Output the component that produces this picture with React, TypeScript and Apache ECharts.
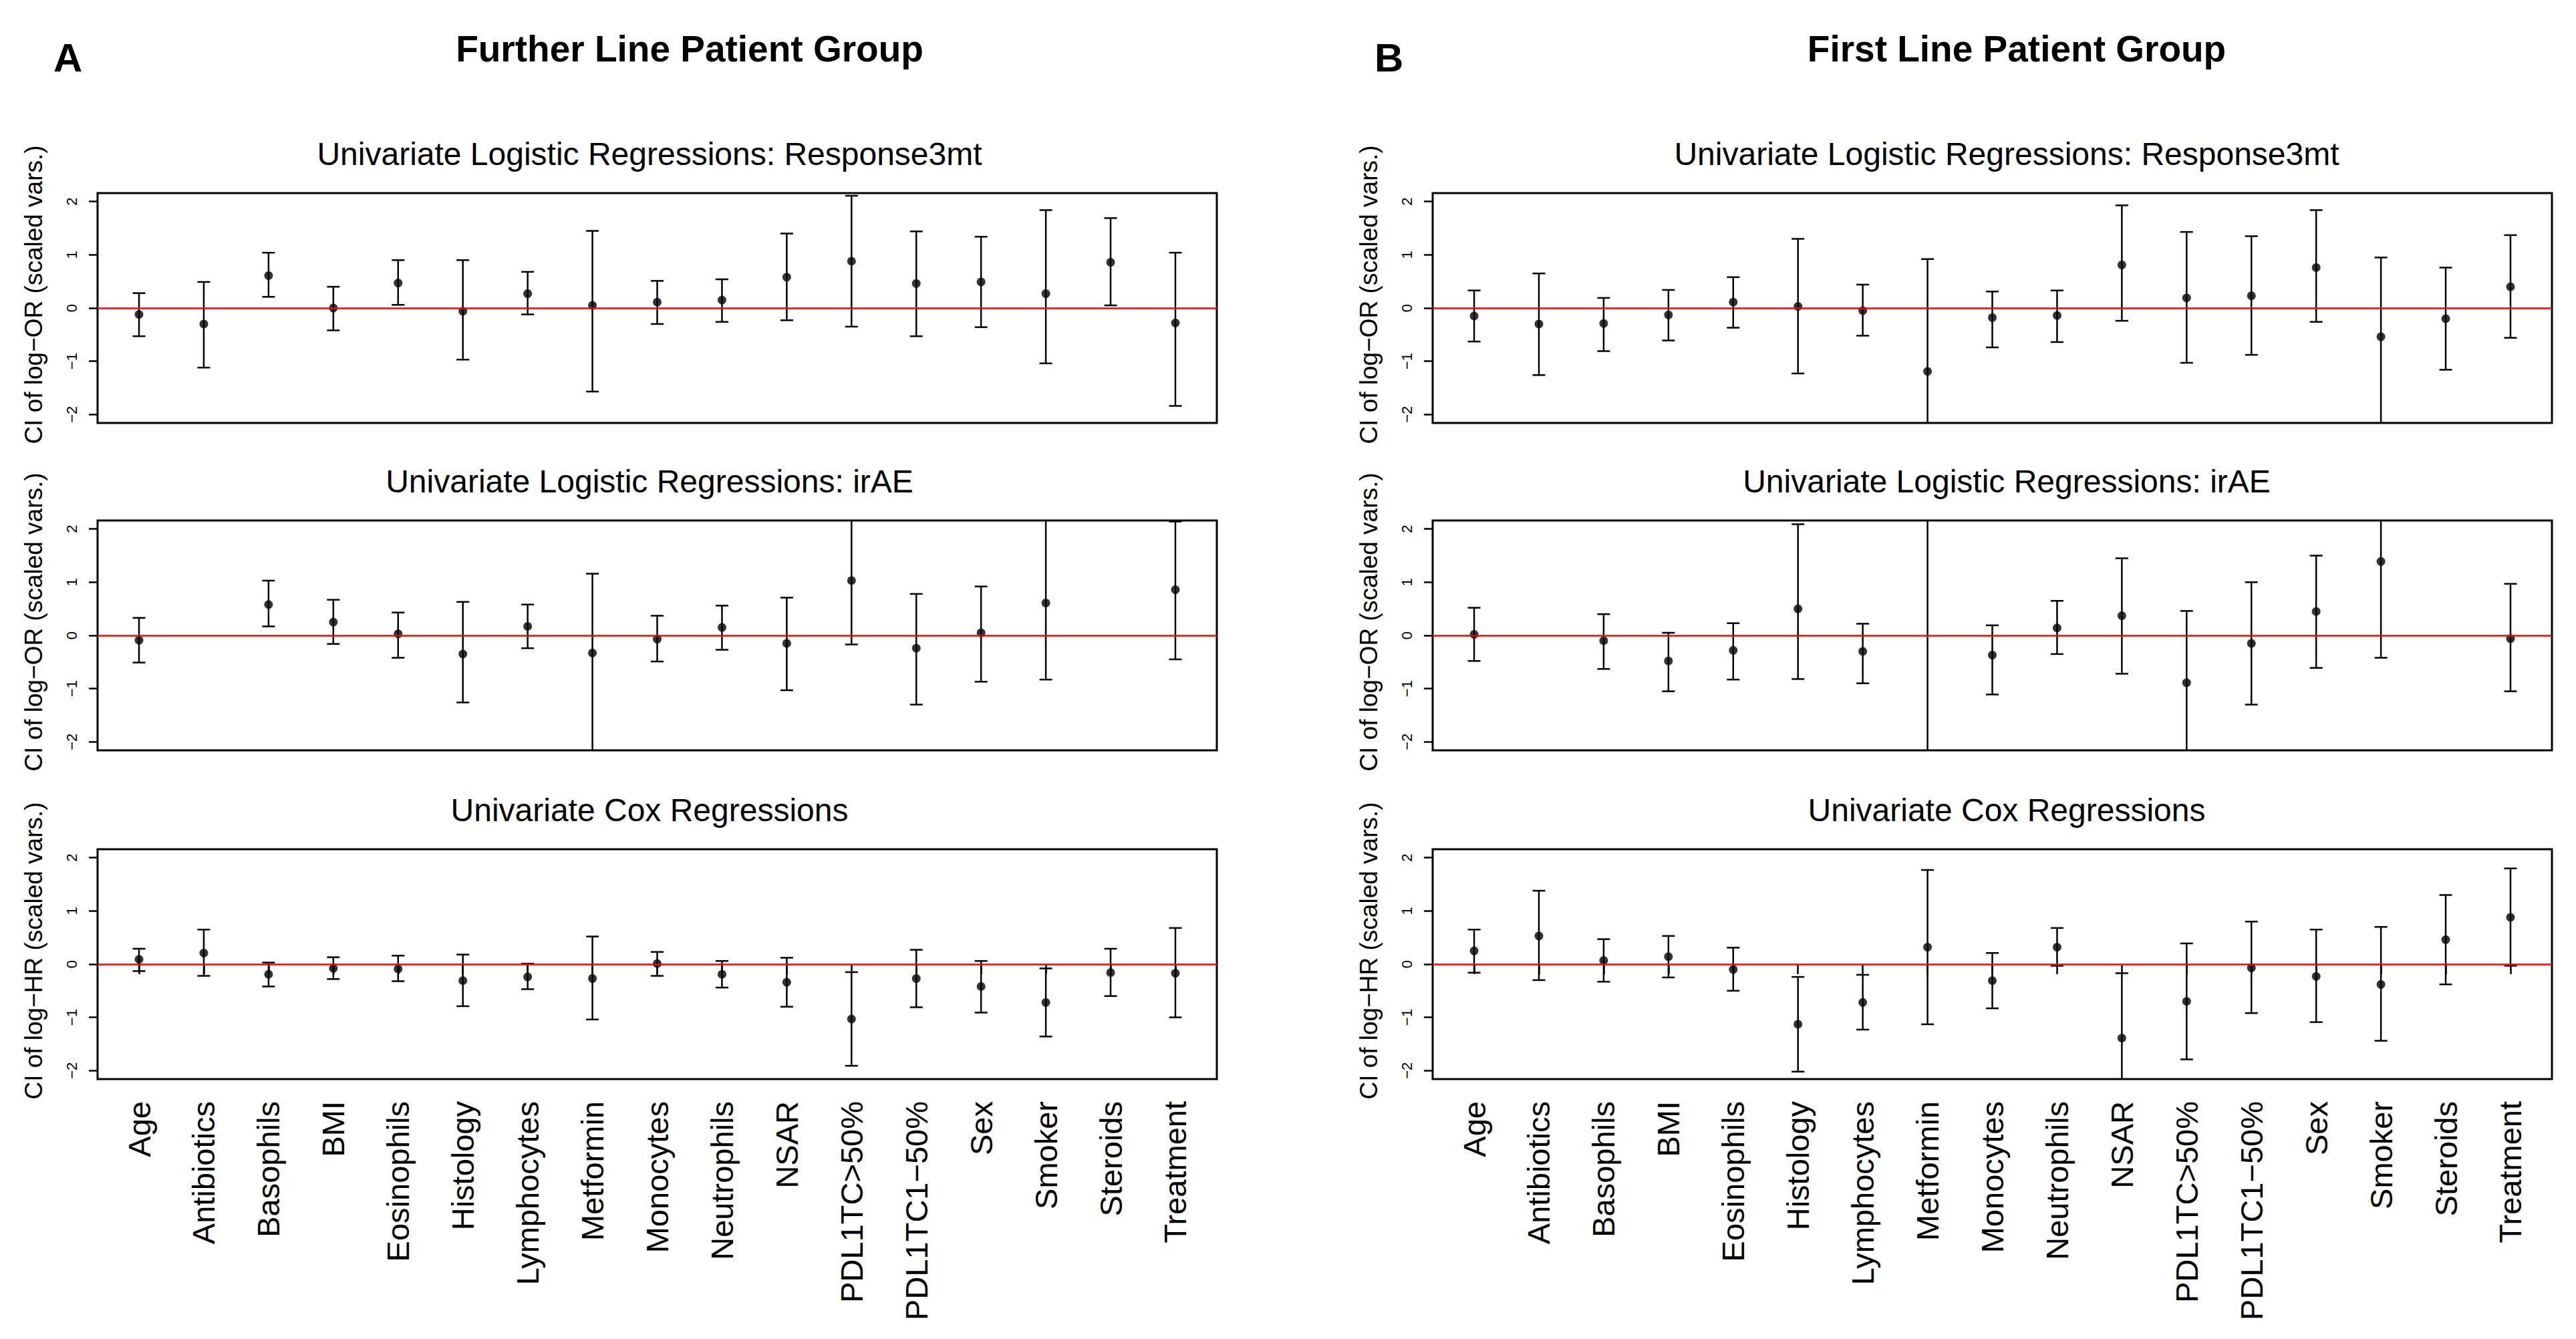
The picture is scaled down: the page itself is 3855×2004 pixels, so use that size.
import React, { useEffect, useRef } from "react";
import * as echarts from "echarts";

// ---------- data ----------
const categories = [
  "Age", "Antibiotics", "Basophils", "BMI", "Eosinophils", "Histology", "Lymphocytes",
  "Metformin", "Monocytes", "Neutrophils", "NSAR", "PDL1TC>50%", "PDL1TC1−50%",
  "Sex", "Smoker", "Steroids", "Treatment",
];
const yTickValues = [-2, -1, 0, 1, 2];

// Further line – Response3mt
const furtherRespEst = [-0.12, -0.30, 0.61, 0.00, 0.47, -0.06, 0.27, 0.05, 0.11, 0.15, 0.58, 0.88, 0.46, 0.49, 0.27, 0.86, -0.28];
const furtherRespLow = [-0.53, -1.12, 0.21, -0.42, 0.06, -0.97, -0.12, -1.57, -0.30, -0.26, -0.23, -0.35, -0.53, -0.36, -1.04, 0.05, -1.84];
const furtherRespHigh = [0.28, 0.49, 1.04, 0.40, 0.90, 0.90, 0.68, 1.45, 0.51, 0.54, 1.40, 2.11, 1.44, 1.34, 1.84, 1.69, 1.04];
// Further line – irAE
const furtherIraeEst = [-0.09, null, 0.58, 0.25, 0.03, -0.35, 0.17, -0.33, -0.07, 0.15, -0.15, 1.03, -0.24, 0.05, 0.61, null, 0.86];
const furtherIraeLow = [-0.51, null, 0.17, -0.16, -0.42, -1.26, -0.24, -2.6, -0.49, -0.27, -1.03, -0.17, -1.30, -0.87, -0.83, null, -0.45];
const furtherIraeHigh = [0.33, null, 1.03, 0.67, 0.43, 0.63, 0.58, 1.16, 0.37, 0.56, 0.71, 2.6, 0.78, 0.92, 2.5, null, 2.14];
// Further line – Cox
const furtherCoxEst = [0.09, 0.21, -0.19, -0.08, -0.09, -0.31, -0.24, -0.27, 0.01, -0.19, -0.34, -1.03, -0.27, -0.42, -0.72, -0.16, -0.17];
const furtherCoxLow = [-0.13, -0.22, -0.42, -0.28, -0.32, -0.79, -0.47, -1.04, -0.22, -0.44, -0.80, -1.91, -0.81, -0.91, -1.36, -0.60, -1.00];
const furtherCoxHigh = [0.29, 0.65, 0.03, 0.13, 0.16, 0.18, 0.01, 0.52, 0.23, 0.06, 0.12, -0.15, 0.27, 0.06, -0.08, 0.29, 0.68];

// First line – Response3mt
const firstRespEst = [-0.15, -0.30, -0.29, -0.13, 0.11, 0.03, -0.05, -1.19, -0.18, -0.14, 0.81, 0.19, 0.23, 0.76, -0.54, -0.20, 0.40];
const firstRespLow = [-0.63, -1.26, -0.81, -0.61, -0.37, -1.23, -0.52, -2.6, -0.74, -0.64, -0.24, -1.03, -0.88, -0.26, -2.5, -1.16, -0.56];
const firstRespHigh = [0.33, 0.65, 0.19, 0.34, 0.58, 1.30, 0.44, 0.92, 0.31, 0.33, 1.93, 1.43, 1.35, 1.84, 0.95, 0.76, 1.37];
// First line – irAE
const firstIraeEst = [0.02, null, -0.10, -0.48, -0.28, 0.50, -0.30, -3.5, -0.37, 0.14, 0.37, -0.89, -0.15, 0.45, 1.39, null, -0.06];
const firstIraeLow = [-0.48, null, -0.63, -1.05, -0.83, -0.82, -0.90, -10, -1.11, -0.35, -0.72, -2.5, -1.30, -0.61, -0.42, null, -1.05];
const firstIraeHigh = [0.52, null, 0.40, 0.05, 0.23, 2.09, 0.22, 3.0, 0.19, 0.65, 1.45, 0.46, 1.00, 1.50, 3.2, null, 0.97];
// First line – Cox
const firstCoxEst = [0.25, 0.53, 0.07, 0.14, -0.10, -1.13, -0.72, 0.32, -0.31, 0.32, -1.39, -0.70, -0.07, -0.23, -0.38, 0.46, 0.88];
const firstCoxLow = [-0.16, -0.30, -0.33, -0.25, -0.50, -2.02, -1.23, -1.13, -0.83, -0.03, -2.6, -1.79, -0.92, -1.09, -1.44, -0.38, -0.03];
const firstCoxHigh = [0.65, 1.38, 0.47, 0.53, 0.31, -0.24, -0.20, 1.77, 0.21, 0.68, -0.17, 0.39, 0.80, 0.65, 0.70, 1.30, 1.80];

const panelTitles = [
  "Univariate Logistic Regressions: Response3mt",
  "Univariate Logistic Regressions: irAE",
  "Univariate Cox Regressions",
];
const yNames = [
  "CI of log−OR (scaled vars.)",
  "CI of log−OR (scaled vars.)",
  "CI of log−HR (scaled vars.)",
];

const panels = [
  { col: 0, row: 0, est: furtherRespEst, low: furtherRespLow, high: furtherRespHigh },
  { col: 0, row: 1, est: furtherIraeEst, low: furtherIraeLow, high: furtherIraeHigh },
  { col: 0, row: 2, est: furtherCoxEst, low: furtherCoxLow, high: furtherCoxHigh },
  { col: 1, row: 0, est: firstRespEst, low: firstRespLow, high: firstRespHigh },
  { col: 1, row: 1, est: firstIraeEst, low: firstIraeLow, high: firstIraeHigh },
  { col: 1, row: 2, est: firstCoxEst, low: firstCoxLow, high: firstCoxHigh },
];

// ---------- layout ----------
const W = 3855;
const H = 2004;
const FONT = "'Liberation Sans', Arial, Helvetica, sans-serif";
const gridLefts = [146, 2144];
const gridTops = [289, 779, 1271];
const gridW = 1675;
const gridH = 344;
const subtitleCenters = [972, 3003];
const mainTitleCenters = [1032, 3018];

function buildOption() {
  const xPositions = categories.map((_, i) => i + 1);
  const grid: any[] = [];
  const xAxis: any[] = [];
  const yAxis: any[] = [];
  const series: any[] = [];
  const title: any[] = [
    { text: "A", left: 80, top: 56, padding: 0, textStyle: { fontFamily: FONT, fontSize: 60, fontWeight: "bold", color: "#000", lineHeight: 60 } },
    { text: "B", left: 2057, top: 56, padding: 0, textStyle: { fontFamily: FONT, fontSize: 60, fontWeight: "bold", color: "#000", lineHeight: 60 } },
    { text: "Further Line Patient Group", left: mainTitleCenters[0], top: 45, textAlign: "center", padding: 0, textStyle: { fontFamily: FONT, fontSize: 55, fontWeight: "bold", color: "#000", lineHeight: 55 } },
    { text: "First Line Patient Group", left: mainTitleCenters[1], top: 45, textAlign: "center", padding: 0, textStyle: { fontFamily: FONT, fontSize: 55, fontWeight: "bold", color: "#000", lineHeight: 55 } },
  ];

  panels.forEach((p, idx) => {
    const isBottom = p.row === 2;
    grid.push({
      left: gridLefts[p.col], top: gridTops[p.row], width: gridW, height: gridH,
      show: true, borderColor: "#000", borderWidth: 3, backgroundColor: "transparent",
      containLabel: false,
    });
    title.push({
      text: panelTitles[p.row], left: subtitleCenters[p.col], top: gridTops[p.row] - 83,
      textAlign: "center", padding: 0,
      textStyle: { fontFamily: FONT, fontSize: 48, fontWeight: "normal", color: "#000", lineHeight: 48 },
    });
    xAxis.push({
      gridIndex: idx, type: "value", min: 0.36, max: 17.64,
      axisLine: { show: false }, splitLine: { show: false },
      axisTick: { show: isBottom, customValues: xPositions, length: 15, inside: false, lineStyle: { color: "#000", width: 2.5 } },
      axisLabel: {
        show: isBottom, customValues: xPositions, rotate: 90, margin: 33,
        fontFamily: FONT, fontSize: 47, color: "#000",
        formatter: (v: number) => categories[Math.round(v) - 1] ?? "",
      },
    });
    yAxis.push({
      gridIndex: idx, type: "value", min: -2.16, max: 2.16,
      name: yNames[p.row], nameLocation: "middle", nameGap: 77, nameRotate: 90,
      nameTextStyle: { fontFamily: FONT, fontSize: 37, color: "#000", lineHeight: 37, padding: [0, 0, 0, 40] },
      axisLine: { show: false }, splitLine: { show: false },
      axisTick: { show: true, customValues: yTickValues, length: 13, lineStyle: { color: "#000", width: 2.5 } },
      axisLabel: {
        customValues: yTickValues, rotate: 90, margin: 28,
        fontFamily: FONT, fontSize: 22, color: "#000",
        formatter: (v: number) => String(v).replace("-", "−"),
      },
    });

    const barData: number[][] = [];
    const ptData: number[][] = [];
    categories.forEach((_, i) => {
      const lo = p.low[i];
      const hi = p.high[i];
      const e = p.est[i];
      if (lo != null && hi != null) barData.push([i + 1, lo as number, hi as number]);
      if (e != null) ptData.push([i + 1, e as number]);
    });

    series.push({
      type: "custom", xAxisIndex: idx, yAxisIndex: idx, clip: true, z: 2,
      encode: { x: 0, y: [1, 2] },
      data: barData,
      renderItem: (params: any, api: any) => {
        const x = api.value(0);
        const pLo = api.coord([x, api.value(1)]);
        const pHi = api.coord([x, api.value(2)]);
        const cw = 9.5;
        const st = { stroke: "#000", lineWidth: 2.5 };
        return {
          type: "group",
          children: [
            { type: "line", shape: { x1: pLo[0], y1: pLo[1], x2: pHi[0], y2: pHi[1] }, style: st },
            { type: "line", shape: { x1: pLo[0] - cw, y1: pLo[1], x2: pLo[0] + cw, y2: pLo[1] }, style: st },
            { type: "line", shape: { x1: pHi[0] - cw, y1: pHi[1], x2: pHi[0] + cw, y2: pHi[1] }, style: st },
          ],
        };
      },
    });
    series.push({
      type: "scatter", xAxisIndex: idx, yAxisIndex: idx, clip: true, z: 3,
      symbol: "circle", symbolSize: 13, itemStyle: { color: "#000" },
      data: ptData,
      markLine: {
        silent: true, symbol: ["none", "none"], label: { show: false },
        lineStyle: { color: "#ff0000", width: 2.5, type: "solid" },
        data: [{ yAxis: 0 }],
      },
    });
  });

  return { animation: false, backgroundColor: "#fff", title, grid, xAxis, yAxis, series };
}

export default function App() {
  const ref = useRef<HTMLDivElement>(null);
  useEffect(() => {
    document.body.style.margin = "0";
    if (!ref.current) return;
    const chart = echarts.init(ref.current, undefined, { renderer: "svg" });
    chart.setOption(buildOption() as any);
    return () => chart.dispose();
  }, []);
  return <div ref={ref} style={{ width: W, height: H }} />;
}
